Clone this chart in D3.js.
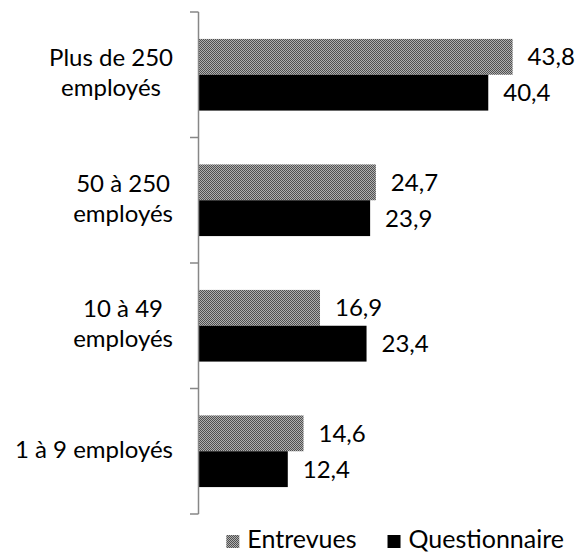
<!DOCTYPE html>
<html>
<head>
<meta charset="utf-8">
<script src="https://cdn.jsdelivr.net/npm/d3@7"></script>
<style>
  html, body { margin: 0; padding: 0; background: #fff; }
  svg { display: block; }
  text { font-family: Lato, "Noto Sans", sans-serif; fill: #000; }
</style>
</head>
<body>
<div id="chart"></div>
<script>
// Company-size categories, top to bottom
const categories = [
  ["Plus de 250", "employés"],
  ["50 à 250", "employés"],
  ["10 à 49", "employés"],
  ["1 à 9 employés"]
];
const seriesNames = ["Entrevues", "Questionnaire"];
const entrevues = [43.8, 24.7, 16.9, 14.6];
const questionnaire = [40.4, 23.9, 23.4, 12.4];

const W = 579, H = 554;
const axisX = 199, plotTop = 12, plotBottom = 514;
const fontSize = 24;

const svg = d3.select("#chart").append("svg")
  .attr("width", W).attr("height", H);

// Fine grey grain used for the "Entrevues" series
const defs = svg.append("defs");
const pat = defs.append("pattern")
  .attr("id", "grain")
  .attr("patternUnits", "userSpaceOnUse")
  .attr("width", 2).attr("height", 2);
pat.append("rect").attr("width", 2).attr("height", 2).attr("fill", "#b0b0b0");
pat.append("rect").attr("width", 1).attr("height", 1).attr("fill", "#505050");
pat.append("rect").attr("x", 1).attr("y", 1).attr("width", 1).attr("height", 1).attr("fill", "#505050");

const x = d3.scaleLinear().domain([0, 50]).range([axisX, 557]);
const y = d3.scaleBand().domain(d3.range(categories.length)).range([plotTop, plotBottom]).padding(0);
const sub = d3.scaleBand().domain([0, 1])
  .range([y.bandwidth() * 0.2145, y.bandwidth() * 0.7855]).padding(0);

const fills = ["url(#grain)", "#000"];
const series = [entrevues, questionnaire];

// Bars with value labels
series.forEach((vals, s) => {
  svg.append("g").selectAll("rect")
    .data(vals)
    .join("rect")
    .attr("x", x(0))
    .attr("y", (d, i) => y(i) + sub(s))
    .attr("width", d => x(d) - x(0))
    .attr("height", sub.bandwidth())
    .attr("fill", fills[s]);

  svg.append("g").selectAll("text")
    .data(vals)
    .join("text")
    .attr("x", d => x(d) + 15)
    .attr("y", (d, i) => y(i) + sub(s) + sub.bandwidth() / 2)
    .attr("dy", "0.35em")
    .attr("font-size", fontSize)
    .text(d => d.toFixed(1).replace(".", ","));
});

// Category axis line and boundary ticks
const axisColor = "#878787";
const ax = svg.append("g").attr("stroke", axisColor).attr("stroke-width", 1.5).attr("fill", "none");
ax.append("line").attr("x1", axisX - 0.5).attr("x2", axisX - 0.5).attr("y1", plotTop).attr("y2", plotBottom);
ax.selectAll("line.tick")
  .data(d3.range(categories.length + 1))
  .join("line")
  .attr("class", "tick")
  .attr("x1", axisX - 9).attr("x2", axisX - 0.5)
  .attr("y1", i => i < categories.length ? y(i) : plotBottom)
  .attr("y2", i => i < categories.length ? y(i) : plotBottom);

// Category labels: block right-aligned, lines centred within the block
const labelRight = 173, lineH = 30;
categories.forEach((lines, i) => {
  const cy = y(i) + y.bandwidth() / 2;
  const g = svg.append("g");
  const texts = lines.map((ln, k) => g.append("text")
    .attr("font-size", fontSize)
    .attr("text-anchor", "middle")
    .attr("y", cy + (k - (lines.length - 1) / 2) * lineH)
    .attr("dy", "0.27em")
    .text(ln));
  const maxW = d3.max(texts, t => t.node().getComputedTextLength());
  texts.forEach(t => t.attr("x", labelRight - maxW / 2));
});

// Legend, laid out right to left from its right edge
const legend = svg.append("g");
const legBase = 548, sw = 13, swGap = 8, itemGap = 31, legFont = 25;
let rx = 564;
for (let s = seriesNames.length - 1; s >= 0; s--) {
  const t = legend.append("text")
    .attr("x", rx).attr("y", legBase)
    .attr("text-anchor", "end")
    .attr("font-size", legFont)
    .text(seriesNames[s]);
  const tw = t.node().getComputedTextLength();
  legend.append("rect")
    .attr("x", rx - tw - swGap - sw).attr("y", legBase - sw)
    .attr("width", sw).attr("height", sw)
    .attr("fill", fills[s]);
  rx = rx - tw - swGap - sw - itemGap;
}
</script>
</body>
</html>
